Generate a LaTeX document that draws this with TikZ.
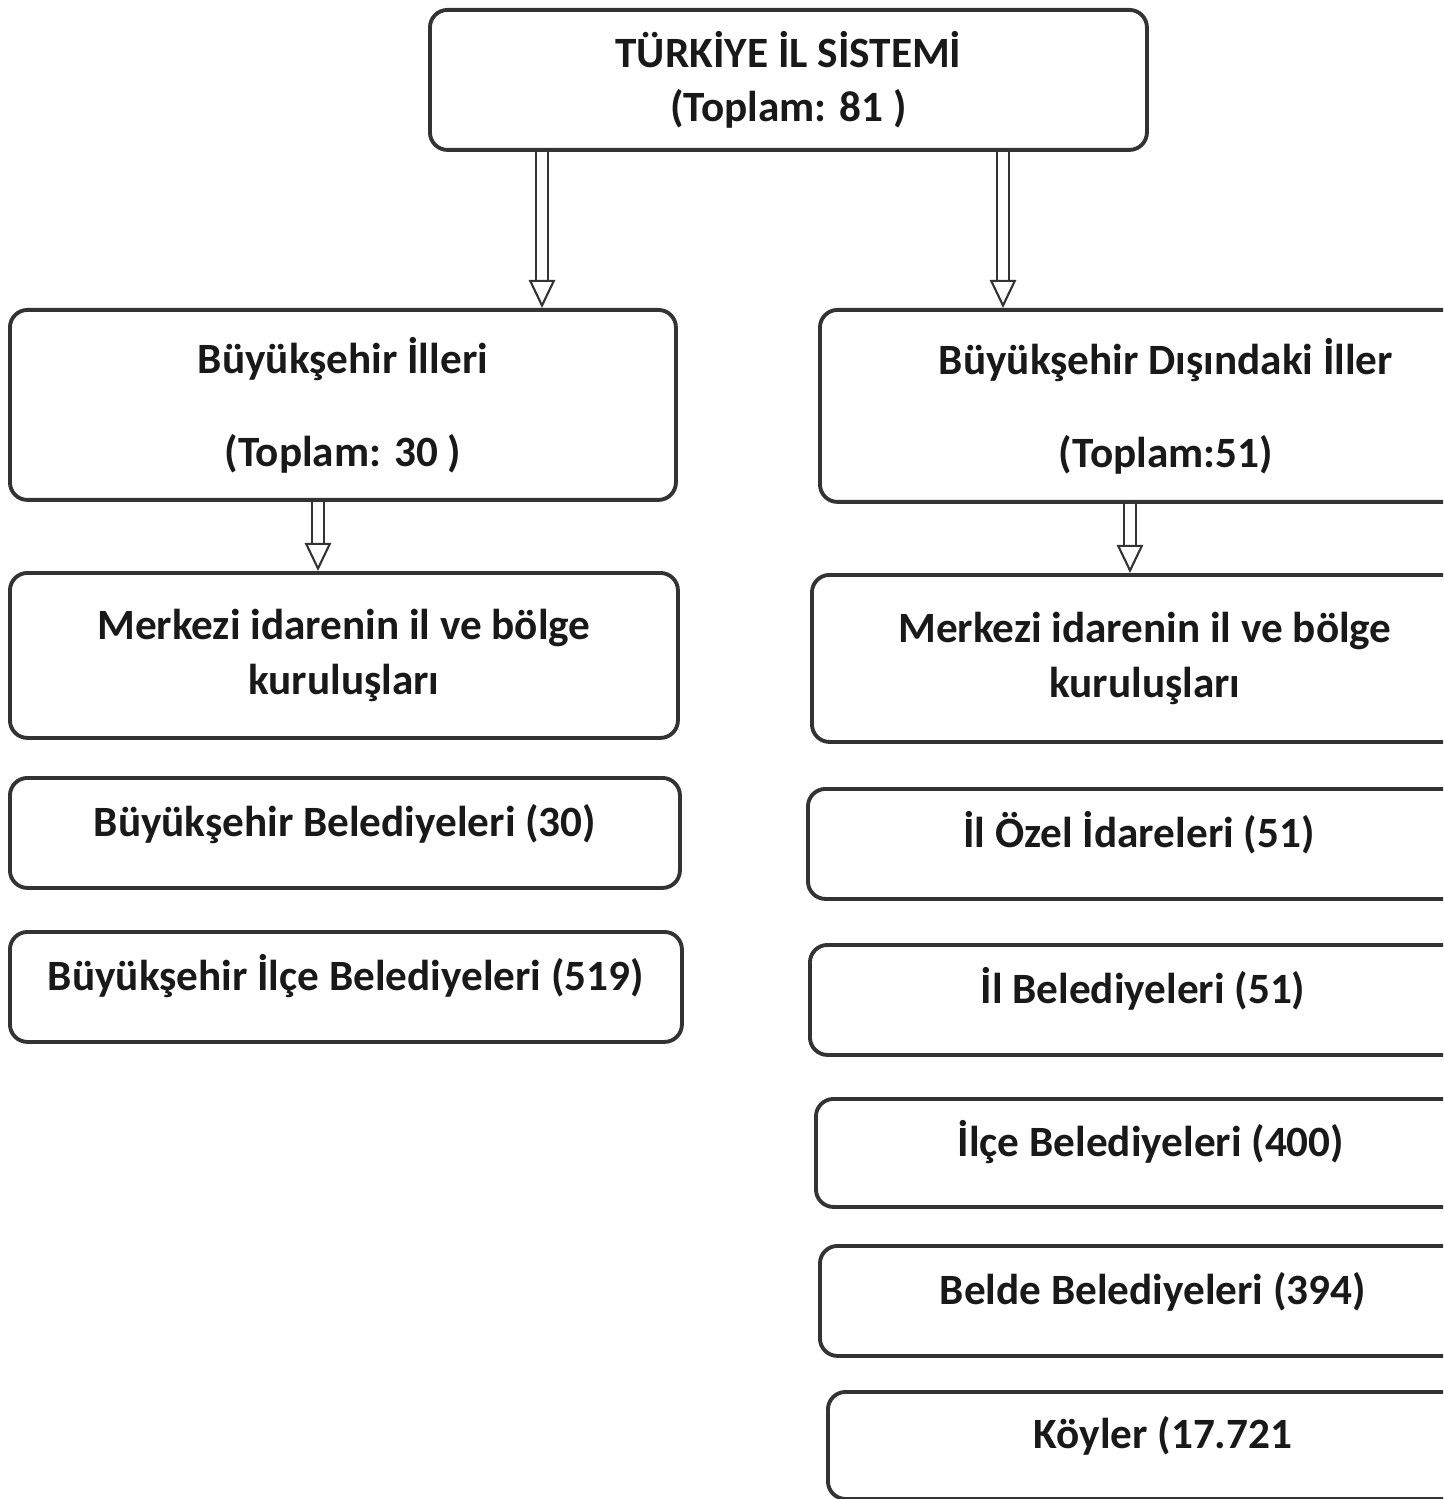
\documentclass[tikz,border=0pt]{standalone}
\usepackage{fontspec}
\setmainfont{Carlito}
\usetikzlibrary{arrows, arrows.meta}
\usetikzlibrary{positioning}

\begin{document}
\begin{tikzpicture}
\tikzstyle{every node}+=[inner sep=0pt, font=\fontsize{12.3}{14.5}\selectfont\bfseries, text=black!90]
\tikzstyle{kutu}=[draw=black!80, line width=1.1pt, rounded corners=5pt, anchor=north west, align=center]
\tikzstyle{tek}=[text height=8pt, text depth=6pt]
\tikzstyle{okcift}=[draw=black!80, line width=0.6pt, double, double distance=3pt, -{Triangle[open, length=8pt, width=7.5pt]}]
\useasboundingbox (0,0) rectangle (14.43,-14.99);
\clip (0,0) rectangle (14.43,-14.99);
% ust kutu
\node [kutu, minimum width=7.17cm, minimum height=1.40cm] (il) at (4.28,-0.08) {T\"URK\.IYE \.IL S\.ISTEM\.I\\[1pt](Toplam: 81 )};
% sol sutun
\node [kutu, minimum width=6.66cm, minimum height=1.90cm] (bsil) at (0.08,-3.08) {B\"uy\"uk\c{s}ehir \.Illeri\\[12pt](Toplam: 30 )};
\node [kutu, minimum width=6.68cm, minimum height=1.65cm] (bsmer) at (0.08,-5.71) {Merkezi idarenin il ve b\"olge\\[1pt]kurulu\c{s}lar\i};
\node [kutu, tek, minimum width=6.70cm, minimum height=1.10cm] (bsbel) at (0.08,-7.76) {B\"uy\"uk\c{s}ehir Belediyeleri (30)};
\node [kutu, tek, minimum width=6.72cm, minimum height=1.10cm] (bsilce) at (0.08,-9.30) {B\"uy\"uk\c{s}ehir \.Il\c{c}e Belediyeleri (519)};
% sag sutun
\node [kutu, minimum width=6.92cm, minimum height=1.92cm] (dil) at (8.18,-3.08) {B\"uy\"uk\c{s}ehir D\i\c{s}\i ndaki \.Iller\\[12pt](Toplam:51)};
\node [kutu, minimum width=6.66cm, minimum height=1.67cm] (dmer) at (8.10,-5.73) {Merkezi idarenin il ve b\"olge\\[1pt]kurulu\c{s}lar\i};
\node [kutu, tek, minimum width=6.62cm, minimum height=1.10cm] (ozel) at (8.06,-7.87) {\.Il \"Ozel \.Idareleri (51)};
\node [kutu, tek, minimum width=6.66cm, minimum height=1.10cm] (ilbel) at (8.08,-9.43) {\.Il Belediyeleri (51)};
\node [kutu, tek, minimum width=6.70cm, minimum height=1.08cm] (ilcebel) at (8.14,-10.97) {\.Il\c{c}e Belediyeleri (400)};
\node [kutu, tek, minimum width=6.66cm, minimum height=1.10cm] (belde) at (8.18,-12.44) {Belde Belediyeleri (394)};
\node [kutu, tek, minimum width=6.70cm, minimum height=1.07cm] (koy) at (8.26,-13.90) {K\"oyler (17.721};
% oklar
\draw [okcift] (il.south -| 5.42,0) -- (bsil.north -| 5.42,0);
\draw [okcift] (il.south -| 10.03,0) -- (dil.north -| 10.03,0);
\draw [okcift] (bsil.south -| 3.18,0) -- (bsmer.north -| 3.18,0);
\draw [okcift] (dil.south -| 11.30,0) -- (dmer.north -| 11.30,0);
\end{tikzpicture}
\end{document}
